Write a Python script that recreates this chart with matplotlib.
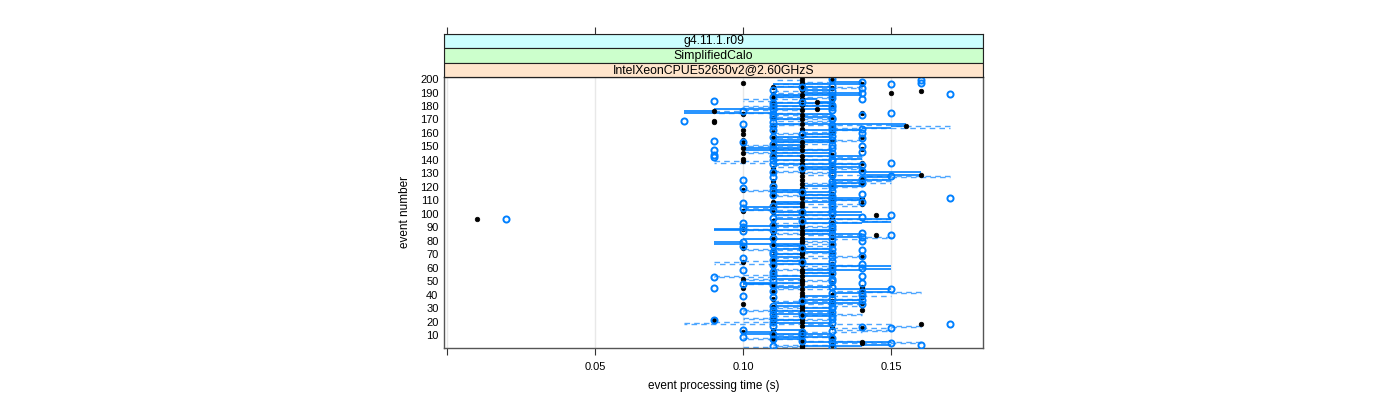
import numpy as np
import matplotlib
matplotlib.use("Agg")
import matplotlib.pyplot as plt
from matplotlib.patches import Rectangle

plt.rcParams['font.family'] = ['Liberation Sans', 'DejaVu Sans']

# ---------------- data (times in ms, events 1..200) ----------------
events = list(range(1, 201))

black_ms = [
    120, 120, 130, 140, 140, 120, 110, 130, 120, 110,
    120, 100, 120, 110, 140, 130, 120, 160, 110, 120,
    90, 120, 110, 120, 120, 130, 110, 120, 140, 120,
    110, 120, 100, 140, 130, 120, 110, 140, 120, 130,
    120, 110, 140, 120, 100, 140, 110, 120, 130, 120,
    120, 100, 110, 120, 130, 110, 120, 120, 110, 130,
    110, 120, 130, 100, 120, 110, 120, 140, 110, 120,
    120, 130, 110, 120, 100, 120, 130, 110, 120, 120,
    110, 120, 130, 145, 120, 110, 120, 130, 100, 120,
    110, 120, 130, 120, 110, 10, 120, 130, 145, 120,
    110, 100, 120, 130, 110, 120, 140, 120, 110, 130,
    140, 120, 110, 120, 130, 110, 120, 100, 120, 110,
    130, 120, 140, 110, 120, 140, 130, 120, 160, 110,
    120, 130, 140, 110, 120, 130, 120, 140, 100, 120,
    100, 110, 120, 130, 100, 110, 120, 140, 100, 120,
    110, 100, 120, 130, 100, 110, 140, 120, 100, 130,
    110, 100, 120, 130, 155, 110, 120, 90, 90, 120,
    110, 130, 120, 100, 140, 90, 120, 125, 110, 130,
    120, 110, 125, 130, 120, 110, 130, 120, 110, 150,
    160, 120, 130, 110, 120, 140, 100, 120, 130, 120,
]

blue_ms = [
    130, 110, 160, 150, 130, 120, 110, 130, 100, 120,
    110, 120, 130, 100, 150, 140, 110, 170, 130, 110,
    90, 130, 110, 130, 120, 110, 130, 100, 110, 130,
    130, 110, 140, 130, 120, 140, 130, 110, 100, 140,
    130, 140, 110, 150, 90, 130, 110, 100, 140, 130,
    110, 130, 90, 140, 110, 130, 110, 100, 130, 140,
    130, 110, 140, 120, 130, 110, 100, 130, 140, 110,
    130, 110, 140, 130, 120, 100, 110, 130, 100, 140,
    130, 110, 140, 150, 130, 140, 100, 110, 130, 100,
    130, 110, 100, 130, 120, 20, 110, 140, 150, 130,
    120, 130, 110, 100, 130, 110, 130, 100, 140, 130,
    130, 170, 130, 110, 140, 120, 130, 110, 100, 130,
    110, 130, 140, 130, 100, 140, 110, 150, 130, 130,
    110, 140, 130, 120, 130, 140, 110, 150, 130, 110,
    130, 90, 110, 90, 130, 140, 90, 110, 130, 140,
    130, 110, 100, 90, 130, 140, 110, 130, 120, 140,
    130, 110, 140, 130, 110, 130, 100, 110, 80, 130,
    130, 110, 140, 110, 150, 100, 130, 110, 130, 110,
    130, 110, 120, 90, 140, 130, 110, 130, 170, 140,
    130, 110, 140, 120, 130, 150, 160, 140, 160, 130,
]

solid_ms = [
    120, 120, 140, 150, 150, 120, 120, 110, 110, 130,
    130, 100, 110, 110, 120, 120, 120, 130, 130, 110,
    110, 120, 120, 120, 130, 130, 110, 110, 130, 130,
    120, 120, 110, 110, 140, 140, 120, 120, 120, 130,
    130, 140, 150, 150, 130, 130, 110, 110, 100, 120,
    120, 120, 110, 110, 130, 130, 120, 120, 140, 150,
    150, 130, 130, 110, 110, 120, 120, 120, 110, 110,
    120, 120, 130, 130, 110, 110, 120, 120, 90, 100,
    100, 130, 130, 140, 140, 120, 120, 130, 90, 100,
    100, 120, 120, 140, 150, 150, 110, 110, 110, 140,
    140, 110, 110, 100, 100, 120, 120, 110, 110, 130,
    140, 140, 120, 120, 130, 130, 110, 110, 120, 120,
    120, 140, 140, 130, 130, 150, 150, 140, 140, 160,
    160, 130, 130, 120, 120, 140, 140, 110, 110, 110,
    130, 140, 140, 110, 110, 130, 130, 100, 100, 120,
    120, 110, 110, 130, 130, 110, 110, 130, 130, 120,
    120, 120, 140, 140, 150, 155, 155, 110, 110, 110,
    120, 120, 130, 130, 110, 80, 90, 90, 130, 130,
    110, 110, 130, 125, 125, 120, 120, 110, 140, 140,
    120, 120, 130, 130, 110, 110, 140, 140, 130, 130,
]

dashed_ms = [
    100, 120, 110, 130, 160, 140, 120, 100, 110, 130,
    110, 120, 140, 150, 130, 150, 160, 150, 80, 90,
    110, 130, 100, 110, 120, 140, 130, 110, 100, 120,
    110, 130, 140, 120, 110, 130, 140, 120, 130, 150,
    150, 160, 140, 130, 110, 120, 130, 110, 100, 120,
    130, 100, 110, 90, 100, 120, 130, 120, 110, 130,
    120, 140, 130, 90, 100, 120, 110, 130, 140, 120,
    110, 130, 120, 100, 110, 130, 120, 110, 130, 120,
    130, 140, 150, 140, 120, 110, 130, 120, 100, 110,
    130, 120, 110, 130, 140, 150, 130, 120, 110, 130,
    130, 110, 120, 100, 110, 130, 140, 120, 110, 120,
    140, 130, 120, 110, 130, 120, 110, 100, 120, 130,
    140, 130, 120, 150, 130, 140, 150, 170, 140, 120,
    130, 110, 120, 140, 130, 110, 120, 140, 90, 110,
    120, 140, 130, 120, 110, 100, 120, 130, 110, 120,
    100, 120, 130, 110, 140, 120, 110, 120, 130, 110,
    120, 130, 140, 130, 170, 150, 110, 120, 130, 110,
    130, 120, 110, 130, 120, 90, 100, 120, 110, 100,
    120, 130, 120, 110, 100, 120, 130, 110, 120, 130,
    110, 130, 120, 140, 130, 110, 120, 130, 120, 110,
]

x_ticks = [0.0, 0.05, 0.10, 0.15]
x_ticklabels = ["", "0.05", "0.10", "0.15"]
y_ticks = list(range(10, 201, 10))
strip_labels = ["g4.11.1.r09", "SimplifiedCalo", "IntelXeonCPUE52650v2@2.60GHzS"]
strip_colors = ["#CCFFFF", "#CCFFCC", "#FFE5CC"]

# ---------------- figure ----------------
W, H = 1400, 400
fig = plt.figure(figsize=(W / 100, H / 100), dpi=100)

px_l, px_r, px_t, px_b = 444, 983, 77, 348
ax = fig.add_axes([px_l / W, 1 - px_b / H, (px_r - px_l) / W, (px_b - px_t) / H])

ev = np.array(events)
blue_c = "#0080ff"
dsh = np.array(dashed_ms) / 1000
sol = np.array(solid_ms) / 1000

for xv in x_ticks:
    ax.axvline(xv, color="#e8e8e8", lw=1.0, zorder=0)

# each line series: horizontal segment at event i from value i to value i+1
ax.hlines(ev[:-1], dsh[:-1], dsh[1:], colors="#4da6ff", lw=1.0,
          linestyles=[(0, (4, 3))], zorder=1)
ax.hlines(ev[:-1], sol[:-1], sol[1:], colors=blue_c, lw=1.2, zorder=2)
ax.plot(np.array(black_ms) / 1000, ev, ls="none", marker="o", ms=3.3,
        mfc="black", mec="black", mew=0.5, zorder=3)
ax.plot(np.array(blue_ms) / 1000, ev, ls="none", marker="o", ms=4.4,
        mfc="none", mec=blue_c, mew=1.4, zorder=4)

ax.set_xlim(-0.001, 0.181)
ax.set_ylim(0.5, 201.5)
ax.set_xticks(x_ticks)
ax.set_xticklabels(x_ticklabels)
ax.set_yticks(y_ticks)
ax.set_yticklabels([str(v) for v in y_ticks])
ax.tick_params(axis="x", direction="out", length=5, width=0.8, color="#333333",
               labelsize=8, pad=5)
ax.tick_params(axis="y", length=0, labelsize=8, pad=4)
for s in ax.spines.values():
    s.set_color("#555555")
    s.set_linewidth(1.0)

ax.set_xlabel("event processing time (s)", fontsize=8.5, labelpad=6)
ax.set_ylabel("event number", fontsize=8.5, labelpad=6)

# strips
sx = fig.add_axes([px_l / W, 1 - px_t / H, (px_r - px_l) / W, 43 / H])
sx.set_xlim(-0.001, 0.181)
sx.set_ylim(0, 3)
for i, (lab, col) in enumerate(zip(strip_labels, strip_colors)):
    yb = 2 - i
    sx.add_patch(Rectangle((-0.001, yb), 0.182, 1, facecolor=col,
                           edgecolor="#222222", lw=0.8))
    sx.text(0.09, yb + 0.5, lab, ha="center", va="center", fontsize=8.8)
sx.set_yticks([])
sx.set_xticks(x_ticks)
sx.tick_params(axis="x", bottom=False, labelbottom=False, top=True,
               labeltop=False, direction="out", length=5, width=0.8,
               color="#333333")
for s in sx.spines.values():
    s.set_color("#222222")
    s.set_linewidth(0.8)

fig.savefig("out.png", dpi=100)
